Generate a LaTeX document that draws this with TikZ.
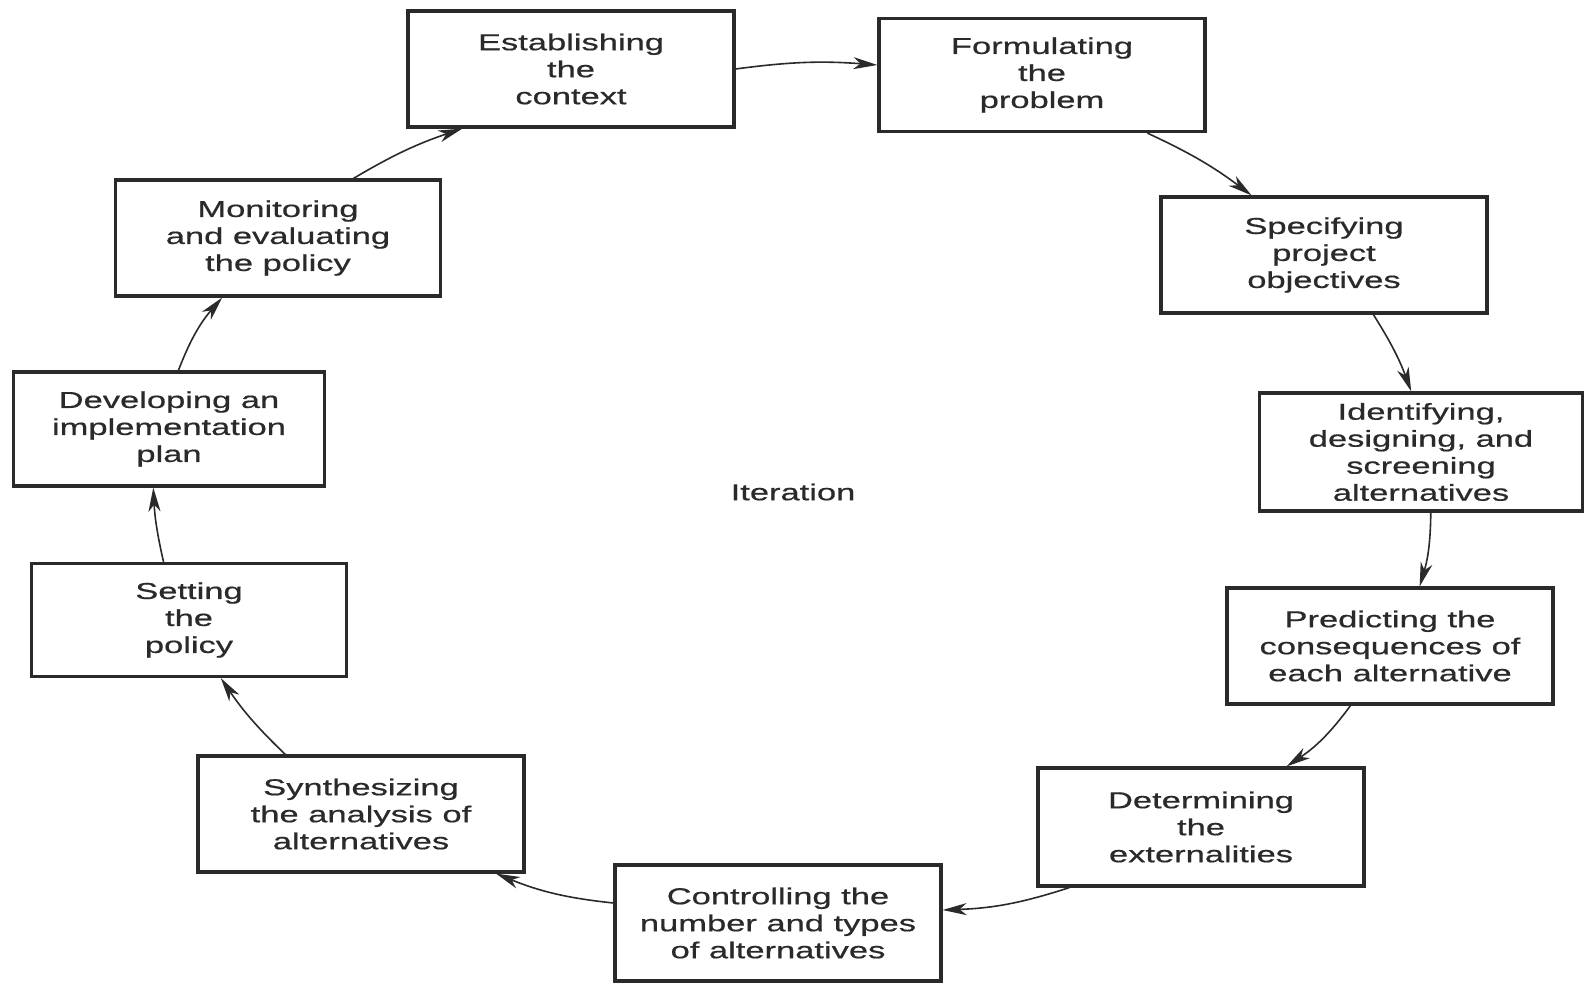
\documentclass[tikz,border=0pt]{standalone}
\usepackage{fontspec}
\setmainfont{Liberation Sans}[FakeStretch=1.5,FakeBold=0.6]
\usetikzlibrary{arrows.meta,calc}
\definecolor{ink}{HTML}{2A2A2A}
\begin{document}
\begin{tikzpicture}[x=1pt,y=-1pt,
  box/.style={draw=ink, line width=3.2pt, fill=white, align=center, text=ink,
    inner sep=0pt, minimum width=326pt, minimum height=116pt,
    font=\fontsize{23}{27}\selectfont},
  flow/.style={draw=ink, line width=1.6pt, -{Stealth[length=24pt,width=12pt,inset=7pt]}}]
\useasboundingbox[fill=white] (0,0) rectangle (1585,984);

\node[box] (est) at (571,69) {Establishing\\the\\context};
\node[box, minimum height=113pt] (form) at (1042,75) {Formulating\\the\\problem};
\node[box] (spec) at (1324,255) {Specifying\\project\\objectives};
\node[box, minimum width=323pt, minimum height=118pt] (ident) at (1421,452) {Identifying,\\designing, and\\screening\\alternatives};
\node[box] (pred) at (1390,646) {Predicting the\\consequences of\\each alternative};
\node[box, minimum height=118pt] (det) at (1201,827) {Determining\\the\\externalities};
\node[box] (ctrl) at (778,923) {Controlling the\\number and types\\of alternatives};
\node[box] (synth) at (361,814) {Synthesizing\\the analysis of\\alternatives};
\node[box, minimum width=315pt, minimum height=113pt] (set) at (189,620) {Setting\\the\\policy};
\node[box, minimum width=311pt, minimum height=114pt] (dev) at (169,429) {Developing an\\implementation\\plan};
\node[box, minimum width=325pt, minimum height=116pt] (mon) at (278,238) {Monitoring\\and evaluating\\the policy};

\node[text=ink, font=\fontsize{23}{27}\selectfont] (iter) at (793,492) {Iteration};

\draw[flow] (est.east) to[bend left=6] ([yshift=10pt]form.west);
\draw[flow] ($(form.south west)!0.82!(form.south east)$) to[bend left=6] ($(spec.north west)!0.28!(spec.north east)$);
\draw[flow] ($(spec.south west)!0.65!(spec.south east)$) to[bend left=6] ($(ident.north west)!0.47!(ident.north east)$);
\draw[flow] ($(ident.south west)!0.53!(ident.south east)$) to[bend left=8] ($(pred.north west)!0.59!(pred.north east)$);
\draw[flow] ($(pred.south west)!0.38!(pred.south east)$) to[bend left=10] ($(det.north west)!0.76!(det.north east)$);
\draw[flow] ($(det.south west)!0.10!(det.south east)$) to[bend left=8] ([yshift=13pt]ctrl.east);
\draw[flow] ([yshift=20pt]ctrl.west) to[bend left=8] ($(synth.south west)!0.91!(synth.south east)$);
\draw[flow] ($(synth.north west)!0.27!(synth.north east)$) to[bend left=6] ($(set.south west)!0.60!(set.south east)$);
\draw[flow] ($(set.north west)!0.42!(set.north east)$) to[bend left=5] ($(dev.south west)!0.45!(dev.south east)$);
\draw[flow] ($(dev.north west)!0.53!(dev.north east)$) to[bend left=10] ($(mon.south west)!0.33!(mon.south east)$);
\draw[flow] ($(mon.north west)!0.73!(mon.north east)$) to[bend left=6] ($(est.south west)!0.17!(est.south east)$);
\end{tikzpicture}
\end{document}
